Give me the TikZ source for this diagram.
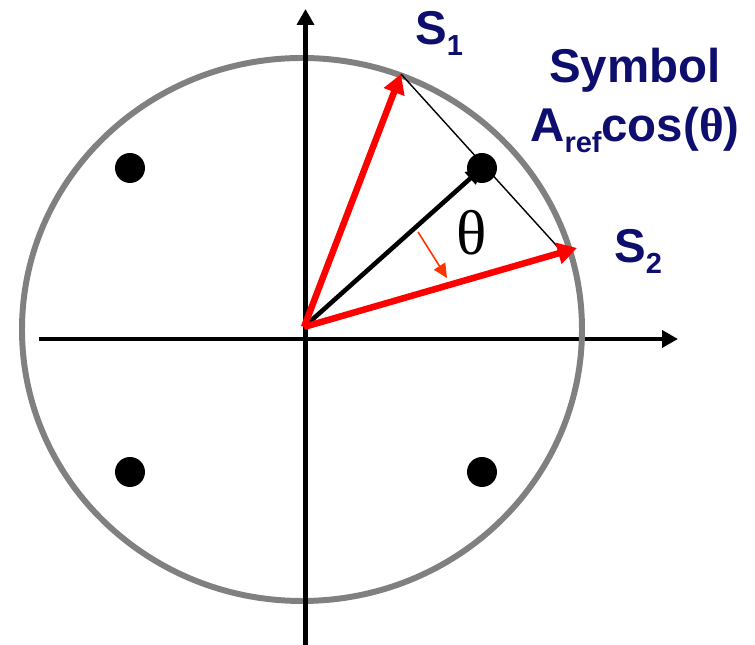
\documentclass[tikz,border=0pt]{standalone}
\usepackage{fontspec}
\setmainfont{Liberation Sans}
\newfontfamily\serifgreek{Liberation Serif}
\usetikzlibrary{arrows.meta,positioning}

\definecolor{navy}{RGB}{14,14,110}
\definecolor{ringgray}{RGB}{128,128,128}
\definecolor{vecred}{RGB}{255,0,0}
\definecolor{angred}{RGB}{255,51,0}
\newcommand{\lowsub}[1]{\raisebox{-6pt}{\fontsize{16.5}{17}\selectfont #1}}

\begin{document}
\begin{tikzpicture}[x=0.02cm, y=0.02cm,
    axis/.style={line width=2.7pt, -{Triangle[length=9pt,width=9.5pt]}},
    vec/.style={vecred, line width=3.7pt, -{Triangle[length=11pt,width=12pt]}},
    dotpt/.style={circle, fill=black, inner sep=0pt, minimum size=0.6cm},
    lbl/.style={text=navy, inner sep=0pt, font=\fontsize{27}{30}\selectfont\bfseries}]
    \useasboundingbox (0,0) rectangle (755,645);

    % points
    \coordinate (O) at (304,318);
    \coordinate (xl) at (39,306);
    \coordinate (xr) at (678,306);
    \coordinate (yb) at (305.5,0);
    \coordinate (yt) at (305.5,636);
    \coordinate (q1) at (482,477);
    \coordinate (s1) at (401,571);
    \coordinate (s2) at (577,397);
    \coordinate (pe) at (565,390);
    \coordinate (a1) at (418,413);
    \coordinate (a2) at (447,367);

    % axes and circle
    \draw[axis] (xl) -- (xr);
    \draw[ringgray, line width=3.4pt] (302,315.5) ellipse [x radius=280, y radius=271.5];
    \draw[axis] (yb) -- (yt);

    % symbol vector and projection line
    \draw[line width=2.6pt, -{Triangle[length=9pt,width=9pt]}] (O) -- (q1);
    \draw[line width=0.8pt] (s1) -- (pe);

    % constellation points
    \node[dotpt] (d1) at (q1) {};
    \node[dotpt] (d2) at (130,477) {};
    \node[dotpt] (d3) at (130,173) {};
    \node[dotpt] (d4) at (482,173) {};

    % reference vectors
    \draw[vec] (O) -- (s1);
    \draw[vec] (O) -- (s2);
    \draw[angred, line width=0.9pt, -{Triangle[length=8pt,width=7.5pt]}] (a1) -- (a2);

    % labels
    \node[font=\serifgreek\fontsize{36}{40}\selectfont, inner sep=0pt, anchor=base] (th) at (472,390) {θ};
    \node[lbl, anchor=base west] (l1) at (415,600) {S\lowsub{1}};
    \node[lbl, anchor=base west] (l2) at (614,382) {S\lowsub{2}};
    \node[lbl, anchor=base] (sym) at (635,562) {Symbol};
    \node[lbl, anchor=base] (acos) at (635,503) {A\lowsub{ref}cos({\serifgreek θ})};
\end{tikzpicture}
\end{document}
